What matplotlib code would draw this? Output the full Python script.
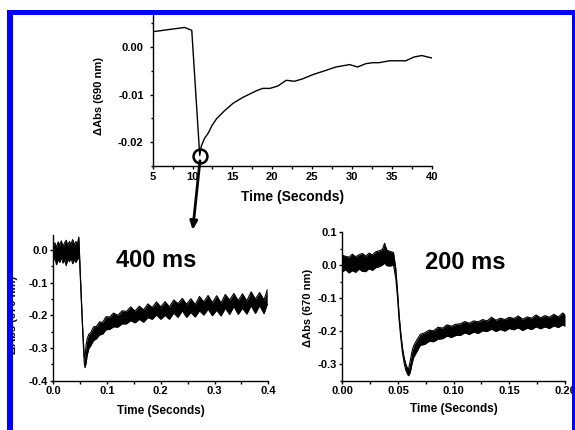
import matplotlib
matplotlib.use('Agg')
import matplotlib.pyplot as plt
from matplotlib.patches import Rectangle
from matplotlib.ticker import MultipleLocator, FormatStrFormatter

plt.rcParams['font.family'] = ['Liberation Sans', 'DejaVu Sans']
plt.rcParams['font.weight'] = 'bold'
plt.rcParams['axes.unicode_minus'] = False

# 上图：690 nm 吸收随时间变化（秒）
t_top = [5.0, 7.2, 9.0, 9.9, 10.9, 11.1, 11.5, 12.0, 12.4, 13.0, 14.0, 15.1,
         16.3, 18.0, 18.8, 19.7, 20.7, 21.75, 22.8, 23.8, 25.1, 26.75, 28.0,
         29.7, 30.7, 31.75, 32.6, 33.4, 34.7, 36.75, 37.8, 38.75, 40.0]
a_top = [0.0032, 0.0037, 0.0041, 0.0035, -0.0228, -0.0208, -0.0192, -0.0180,
         -0.0166, -0.0151, -0.0134, -0.0118, -0.0106, -0.0092, -0.0087,
         -0.0087, -0.0082, -0.0070, -0.0072, -0.0067, -0.0058, -0.0049,
         -0.0042, -0.0037, -0.0042, -0.0035, -0.0033, -0.0033, -0.0029,
         -0.0029, -0.0021, -0.0018, -0.0023]
circle_t, circle_a = 10.95, -0.0229

# 左下：400 ms 闪光，噪声带的上下包络
t_400 = [0.000, 0.003, 0.006, 0.009, 0.012, 0.015, 0.018, 0.021, 0.024, 0.027,
         0.030, 0.033, 0.036, 0.039, 0.042, 0.045, 0.0475, 0.049, 0.052, 0.055,
         0.0575, 0.059, 0.061, 0.063, 0.066, 0.070, 0.075, 0.080, 0.086, 0.092,
         0.098, 0.105, 0.112, 0.120, 0.128, 0.136, 0.144, 0.152, 0.160, 0.168,
         0.176, 0.184, 0.192, 0.200, 0.208, 0.216, 0.224, 0.232, 0.240, 0.248,
         0.256, 0.264, 0.272, 0.280, 0.288, 0.296, 0.304, 0.312, 0.320, 0.328,
         0.336, 0.344, 0.352, 0.360, 0.368, 0.376, 0.384, 0.392, 0.398]
hi_400 = [0.012, 0.022, 0.008, 0.025, 0.015, 0.028, 0.010, 0.022, 0.030, 0.014,
          0.026, 0.018, 0.032, 0.016, 0.026, 0.020, 0.040, -0.020, -0.140, -0.250,
          -0.325, -0.330, -0.290, -0.272, -0.258, -0.252, -0.235, -0.234, -0.220, -0.221,
          -0.204, -0.205, -0.193, -0.200, -0.186, -0.188, -0.174, -0.187, -0.172, -0.183,
          -0.165, -0.176, -0.159, -0.174, -0.158, -0.174, -0.153, -0.164, -0.148, -0.166,
          -0.149, -0.167, -0.142, -0.159, -0.139, -0.161, -0.140, -0.162, -0.136, -0.153,
          -0.133, -0.155, -0.134, -0.156, -0.128, -0.150, -0.130, -0.153, -0.122]
lo_400 = [-0.032, -0.025, -0.045, -0.028, -0.038, -0.022, -0.040, -0.030, -0.048, -0.026,
          -0.036, -0.024, -0.042, -0.030, -0.038, -0.028, -0.020, -0.035, -0.150, -0.262,
          -0.345, -0.360, -0.346, -0.322, -0.302, -0.292, -0.277, -0.272, -0.260, -0.257,
          -0.244, -0.243, -0.235, -0.236, -0.226, -0.226, -0.216, -0.223, -0.212, -0.221,
          -0.207, -0.212, -0.199, -0.212, -0.200, -0.212, -0.193, -0.206, -0.186, -0.206,
          -0.191, -0.205, -0.186, -0.199, -0.181, -0.201, -0.184, -0.202, -0.178, -0.197,
          -0.173, -0.197, -0.178, -0.196, -0.170, -0.194, -0.170, -0.195, -0.166]

# 右下：200 ms 闪光
t_200 = [0.000, 0.003, 0.006, 0.009, 0.012, 0.015, 0.018, 0.021, 0.024, 0.027,
         0.030, 0.033, 0.036, 0.038, 0.040, 0.043, 0.046, 0.048, 0.0495, 0.051,
         0.0525, 0.054, 0.0555, 0.057, 0.0585, 0.0595, 0.061, 0.0625, 0.064, 0.066,
         0.070, 0.074, 0.078, 0.082, 0.086, 0.090, 0.094, 0.098, 0.102, 0.106,
         0.110, 0.114, 0.118, 0.122, 0.126, 0.130, 0.134, 0.138, 0.142, 0.146,
         0.150, 0.154, 0.158, 0.162, 0.166, 0.170, 0.174, 0.178, 0.182, 0.186,
         0.190, 0.194, 0.198, 0.200]
hi_200 = [0.030, 0.026, 0.024, 0.033, 0.025, 0.031, 0.035, 0.027, 0.036, 0.031,
          0.040, 0.043, 0.047, 0.066, 0.045, 0.041, 0.038, -0.010, -0.075, -0.150,
          -0.205, -0.250, -0.280, -0.300, -0.312, -0.315, -0.290, -0.262, -0.245, -0.232,
          -0.210, -0.205, -0.197, -0.199, -0.188, -0.191, -0.181, -0.185, -0.179, -0.178,
          -0.171, -0.176, -0.169, -0.172, -0.165, -0.169, -0.158, -0.167, -0.161, -0.165,
          -0.158, -0.162, -0.154, -0.164, -0.157, -0.161, -0.151, -0.160, -0.153, -0.158,
          -0.149, -0.157, -0.145, -0.151]
lo_200 = [-0.021, -0.014, -0.024, -0.017, -0.022, -0.012, -0.019, -0.020, -0.011, -0.016,
          -0.008, -0.005, 0.000, 0.006, -0.002, -0.003, 0.000, -0.040, -0.095, -0.165,
          -0.220, -0.265, -0.296, -0.318, -0.330, -0.335, -0.325, -0.300, -0.280, -0.268,
          -0.243, -0.240, -0.231, -0.232, -0.224, -0.223, -0.215, -0.219, -0.213, -0.213,
          -0.205, -0.210, -0.203, -0.207, -0.199, -0.201, -0.194, -0.201, -0.195, -0.200,
          -0.192, -0.196, -0.190, -0.198, -0.191, -0.195, -0.187, -0.193, -0.187, -0.192,
          -0.184, -0.189, -0.181, -0.185]

W, H = 575, 430
fig = plt.figure(figsize=(W / 100, H / 100), dpi=100)


def px_axes(left, top, right, bottom):
    # 用图片像素（左上角为原点）定位坐标轴
    return fig.add_axes([left / W, 1 - bottom / H, (right - left) / W, (bottom - top) / H])


def style_axes(ax):
    for side in ('top', 'right'):
        ax.spines[side].set_visible(False)
    for side in ('left', 'bottom'):
        ax.spines[side].set_linewidth(1.0)
    ax.tick_params(which='major', direction='out', length=2.5, width=1,
                   labelsize=8, pad=1.5)
    ax.tick_params(which='minor', direction='out', length=1.8, width=1)
    for lab in ax.get_xticklabels() + ax.get_yticklabels():
        lab.set_fontweight('bold')


def noisy_band(ax, t, lo, hi):
    ax.fill_between(t, lo, hi, color='black', lw=0)
    ax.plot(t, hi, color='black', lw=0.8)
    ax.plot(t, lo, color='black', lw=0.8)


# ---- 上图 ----
ax1 = px_axes(152.7, 14.6, 431.7, 166)
ax1.plot(t_top, a_top, color='black', lw=1.0)
ax1.plot([circle_t], [circle_a], marker='o', ms=10, mfc='none', mec='black',
         mew=1.8, clip_on=False)
ax1.set_xlim(5, 40)
ax1.set_ylim(-0.025, 0.0068)
ax1.xaxis.set_major_locator(MultipleLocator(5))
ax1.xaxis.set_minor_locator(MultipleLocator(2.5))
ax1.yaxis.set_major_locator(MultipleLocator(0.01))
ax1.yaxis.set_minor_locator(MultipleLocator(0.005))
ax1.xaxis.set_major_formatter(FormatStrFormatter('%d'))
ax1.yaxis.set_major_formatter(FormatStrFormatter('%.2f'))
style_axes(ax1)
ax1.tick_params(axis='y', pad=4)
ax1.set_xlabel('Time (Seconds)', fontsize=10, fontweight='bold')
ax1.set_ylabel('\u0394Abs (690 nm)', fontsize=8, fontweight='bold')
ax1.xaxis.set_label_coords(0.5, -0.16)
ax1.yaxis.set_label_coords(-0.175, 0.46)

# 圆圈到下方放大图的箭头
ax1.annotate('', xy=(192.7, H - 230), xycoords='figure pixels',
             xytext=(10.93, -0.0239), textcoords='data',
             arrowprops=dict(arrowstyle='-|>,head_length=0.5,head_width=0.22',
                             lw=2, color='black', shrinkA=0, shrinkB=0),
             annotation_clip=False)

# ---- 左下 400 ms ----
ax2 = px_axes(53.3, 235, 268.3, 380.7)
noisy_band(ax2, t_400, lo_400, hi_400)
ax2.set_xlim(0, 0.4)
ax2.set_ylim(-0.4, 0.046)
ax2.xaxis.set_major_locator(MultipleLocator(0.1))
ax2.xaxis.set_minor_locator(MultipleLocator(0.05))
ax2.yaxis.set_major_locator(MultipleLocator(0.1))
ax2.yaxis.set_minor_locator(MultipleLocator(0.05))
ax2.xaxis.set_major_formatter(FormatStrFormatter('%.1f'))
ax2.yaxis.set_major_formatter(FormatStrFormatter('%.1f'))
style_axes(ax2)
ax2.set_xlabel('Time (Seconds)', fontsize=8.5, fontweight='bold')
ax2.set_ylabel('\u0394Abs (670 nm)', fontsize=8, fontweight='bold')
ax2.xaxis.set_label_coords(0.5, -0.17)
ax2.yaxis.set_label_coords(-0.166, 0.45)
ax2.text(0.478, 0.828, '400 ms', transform=ax2.transAxes, fontsize=17,
         fontweight='bold', ha='center', va='center')

# ---- 右下 200 ms ----
ax3 = px_axes(342.3, 232, 565, 380.7)
noisy_band(ax3, t_200, lo_200, hi_200)
ax3.set_xlim(0, 0.2)
ax3.set_ylim(-0.35, 0.1)
ax3.xaxis.set_major_locator(MultipleLocator(0.05))
ax3.xaxis.set_minor_locator(MultipleLocator(0.025))
ax3.yaxis.set_major_locator(MultipleLocator(0.1))
ax3.yaxis.set_minor_locator(MultipleLocator(0.05))
ax3.xaxis.set_major_formatter(FormatStrFormatter('%.2f'))
ax3.yaxis.set_major_formatter(FormatStrFormatter('%.1f'))
style_axes(ax3)
ax3.set_xlabel('Time (Seconds)', fontsize=8.5, fontweight='bold')
ax3.set_ylabel('\u0394Abs (670 nm)', fontsize=8, fontweight='bold')
ax3.xaxis.set_label_coords(0.5, -0.15)
ax3.yaxis.set_label_coords(-0.13, 0.49)
ax3.text(0.551, 0.792, '200 ms', transform=ax3.transAxes, fontsize=17,
         fontweight='bold', ha='center', va='center')

# ---- 蓝色边框（画在最上层，遮住被裁掉的部分）----
def px_rect(x0, y0, x1, y1, color):
    fig.patches.append(Rectangle((x0 / W, 1 - y1 / H), (x1 - x0) / W, (y1 - y0) / H,
                                 transform=fig.transFigure, color=color, lw=0,
                                 zorder=10))

px_rect(0, 0, 7, H, 'white')
px_rect(7, 10, W, 15, '#0000ff')
px_rect(7, 10, 13, H, '#0000ff')
px_rect(572, 10, W, H, '#0000ff')

fig.savefig('out.png', dpi=100)
